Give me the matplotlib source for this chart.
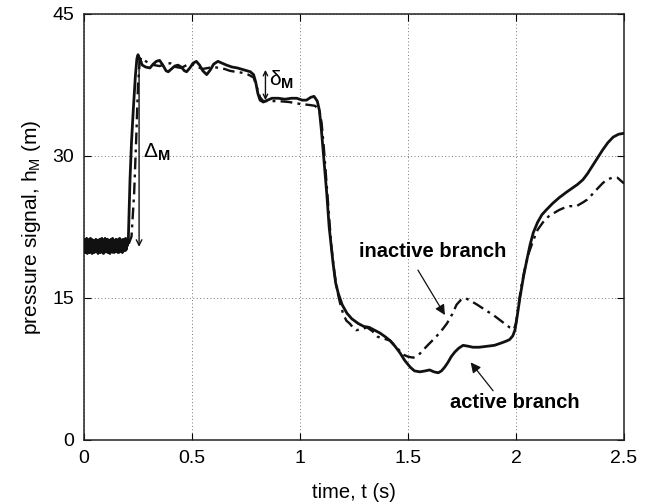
import matplotlib
matplotlib.use("Agg")
import matplotlib.pyplot as plt

plt.rcParams['font.family'] = ['Liberation Sans', 'DejaVu Sans']
plt.rcParams['mathtext.fontset'] = 'custom'
plt.rcParams['mathtext.rm'] = 'Liberation Sans'
plt.rcParams['mathtext.it'] = 'Liberation Sans'
plt.rcParams['mathtext.bf'] = 'Liberation Sans:bold'

# ---- measured signals ----
# pre-switch noisy baseline, 0 .. 0.2 s every 2.5 ms
t_base = [i * 0.0025 for i in range(81)]
h_active_base = [20.4, 21.2, 19.8, 21.0, 20.1, 21.3, 19.7, 20.9, 20.2, 21.1,
                 19.8, 20.8, 21.3, 19.9, 20.7, 19.7, 21.1, 20.1, 21.0, 19.8,
                 20.9, 20.0, 21.2, 19.9, 20.6, 21.1, 19.7, 20.8, 20.0, 21.2,
                 20.2, 19.8, 20.9, 21.3, 20.0, 20.7, 19.7, 21.1, 20.3, 21.3,
                 19.9, 21.0, 20.1, 21.2, 19.8, 20.9, 20.2, 21.1, 19.7, 20.8,
                 21.2, 19.9, 20.6, 21.3, 20.0, 20.8, 19.8, 21.0, 20.2, 21.2,
                 19.9, 20.7, 21.1, 19.8, 20.9, 20.1, 21.3, 19.9, 20.8, 20.3,
                 21.1, 19.8, 20.9, 20.2, 21.2, 20.0, 20.7, 21.3, 20.1, 21.0,
                 20.5]
h_inactive_base = [20.8, 19.9, 21.1, 20.2, 20.9, 19.8, 21.2, 20.0, 20.7, 21.2,
                   20.1, 19.8, 20.9, 21.1, 20.0, 21.2, 19.9, 20.6, 21.1, 20.2,
                   19.8, 21.0, 20.3, 21.2, 19.9, 20.5, 21.1, 20.1, 20.9, 19.8,
                   21.1, 20.4, 19.9, 20.8, 21.2, 20.1, 20.6, 21.0, 19.8, 20.7,
                   21.1, 20.0, 20.8, 19.9, 21.2, 20.2, 20.7, 19.8, 21.0, 20.3,
                   19.9, 21.1, 20.5, 19.8, 20.9, 21.2, 20.1, 20.6, 21.0, 19.9,
                   20.8, 21.2, 20.0, 20.5, 21.1, 19.8, 20.7, 21.0, 20.1, 20.9,
                   19.9, 21.2, 20.3, 20.8, 19.9, 21.1, 20.4, 20.0, 20.9, 20.6,
                   20.6]

t_active = [0.205, 0.213, 0.220, 0.228, 0.238, 0.245, 0.250, 0.258, 0.270, 0.285,
            0.305, 0.320, 0.335, 0.350, 0.365, 0.380, 0.390, 0.405, 0.420, 0.435,
            0.450, 0.465, 0.475, 0.490, 0.505, 0.520, 0.535, 0.550, 0.568, 0.585,
            0.600, 0.620, 0.640, 0.660, 0.685, 0.710, 0.740, 0.770, 0.785, 0.795,
            0.805, 0.815, 0.830, 0.850, 0.870, 0.900, 0.930, 0.960, 0.985, 1.010,
            1.030, 1.050, 1.065, 1.080, 1.090, 1.100, 1.107, 1.115, 1.124, 1.135,
            1.153, 1.165, 1.177, 1.195, 1.217, 1.240, 1.270, 1.295, 1.320, 1.345,
            1.370, 1.395, 1.417, 1.440, 1.463, 1.485, 1.510, 1.530, 1.555, 1.580,
            1.600, 1.620, 1.640, 1.655, 1.670, 1.685, 1.700, 1.717, 1.735, 1.755,
            1.780, 1.800, 1.830, 1.865, 1.900, 1.926, 1.950, 1.970, 1.985, 1.995,
            2.005, 2.018, 2.035, 2.050, 2.065, 2.080, 2.100, 2.120, 2.140, 2.170,
            2.200, 2.235, 2.260, 2.285, 2.310, 2.330, 2.355, 2.375, 2.400, 2.425,
            2.450, 2.475, 2.500]
h_active = [21.0, 27.5, 31.5, 34.8, 38.5, 40.3, 40.7, 40.2, 39.6, 39.4,
            39.3, 39.7, 40.0, 40.1, 39.6, 39.0, 38.9, 39.2, 39.5, 39.6,
            39.4, 39.0, 38.9, 39.3, 39.8, 40.0, 39.6, 39.0, 38.6, 39.1,
            39.7, 40.0, 39.8, 39.6, 39.4, 39.3, 39.1, 38.9, 38.6, 37.8,
            36.6, 35.9, 35.7, 35.9, 36.1, 36.1, 36.0, 36.1, 36.1, 35.9,
            35.9, 36.2, 36.3, 35.8, 34.8, 32.5, 30.6, 28.5, 26.0, 22.5,
            18.7, 16.6, 15.5, 14.3, 13.4, 12.8, 12.3, 12.0, 11.9, 11.6,
            11.3, 10.9, 10.5, 9.9, 9.2, 8.4, 7.7, 7.3, 7.2, 7.3,
            7.4, 7.2, 7.1, 7.3, 7.7, 8.2, 8.8, 9.3, 9.7, 10.0,
            9.9, 9.8, 9.8, 9.9, 10.0, 10.2, 10.4, 10.6, 11.0, 11.6,
            13.0, 15.0, 17.3, 19.0, 20.6, 21.9, 23.0, 23.8, 24.3, 25.0,
            25.6, 26.2, 26.6, 27.0, 27.5, 28.1, 29.0, 29.7, 30.6, 31.4,
            32.0, 32.3, 32.4]

t_inactive = [0.205, 0.220, 0.232, 0.242, 0.250, 0.258, 0.265, 0.280, 0.300, 0.325,
              0.350, 0.375, 0.400, 0.425, 0.450, 0.475, 0.500, 0.525, 0.550, 0.575,
              0.600, 0.625, 0.650, 0.675, 0.700, 0.730, 0.760, 0.785, 0.800, 0.815,
              0.830, 0.860, 0.900, 0.950, 1.000, 1.040, 1.070, 1.090, 1.100, 1.110,
              1.120, 1.130, 1.145, 1.160, 1.175, 1.185, 1.200, 1.215, 1.230, 1.245,
              1.260, 1.285, 1.310, 1.335, 1.360, 1.390, 1.417, 1.450, 1.480, 1.500,
              1.525, 1.550, 1.570, 1.595, 1.617, 1.650, 1.680, 1.705, 1.725, 1.745,
              1.765, 1.790, 1.820, 1.860, 1.895, 1.930, 1.970, 1.990, 2.000, 2.010,
              2.025, 2.040, 2.060, 2.080, 2.100, 2.125, 2.150, 2.170, 2.200, 2.220,
              2.250, 2.280, 2.310, 2.330, 2.355, 2.375, 2.400, 2.420, 2.445, 2.470,
              2.490, 2.500]
h_inactive = [20.6, 21.5, 26.0, 32.0, 37.5, 40.0, 40.4, 40.1, 39.8, 39.6,
              39.5, 39.7, 39.8, 39.4, 39.3, 39.6, 39.7, 39.4, 39.2, 39.3,
              39.4, 39.3, 39.2, 39.0, 38.9, 38.8, 38.6, 38.3, 37.3, 36.2,
              35.8, 35.8, 35.8, 35.7, 35.5, 35.4, 35.3, 34.8, 33.5, 31.0,
              28.0, 25.0, 20.5, 17.5, 15.5, 14.5, 13.3, 12.6, 12.3, 11.9,
              11.6, 11.7, 11.9, 11.5, 10.9, 10.7, 10.5, 9.7, 9.0, 8.8,
              8.7, 9.0, 9.5, 10.1, 10.6, 11.4, 12.3, 13.3, 14.3, 14.8,
              15.0, 14.7, 14.3, 13.7, 13.2, 12.6, 11.9, 11.7, 12.3, 14.0,
              16.3, 18.0, 19.8, 21.1, 22.2, 23.0, 23.6, 23.9, 24.3, 24.5,
              24.7, 24.7, 25.1, 25.4, 26.0, 26.5, 27.1, 27.5, 27.7, 27.7,
              27.3, 27.1]

x_ticks = [0, 0.5, 1, 1.5, 2, 2.5]
x_ticklabels = ['0', '0.5', '1', '1.5', '2', '2.5']
y_ticks = [0, 15, 30, 45]

# jump magnitudes marked on the plot
t_Delta, h_Delta_low, h_Delta_high = 0.255, 20.4, 40.7
t_delta, h_delta_high, h_delta_low = 0.84, 39.1, 35.9

fig = plt.figure(figsize=(6.49, 5.04), dpi=100)
ax = fig.add_axes([84 / 649, 64 / 504, 540 / 649, 426 / 504])

ax.plot(t_base + t_active, h_active_base + h_active,
        color='#111111', lw=2.0, solid_joinstyle='round', zorder=3)
ax.plot(t_base + t_inactive, h_inactive_base + h_inactive,
        color='#111111', lw=1.7, linestyle=(0, (5, 2.2, 1.2, 2.2)), zorder=3)

ax.set_xlim(0, 2.5)
ax.set_ylim(0, 45)
ax.set_xticks(x_ticks)
ax.set_xticklabels(x_ticklabels)
ax.set_yticks(y_ticks)
ax.grid(True, linestyle=(0, (1, 2.5)), color='#777777', linewidth=0.7)
ax.tick_params(direction='in', length=5, width=0.8, labelsize=14,
               top=True, right=True, pad=7)
for s in ax.spines.values():
    s.set_linewidth(1.1)
    s.set_color('#222222')

ax.set_xlabel('time, t (s)', fontsize=14.5, labelpad=12)
ax.set_ylabel(r'pressure signal, h$_\mathrm{M}$ (m)', fontsize=15, labelpad=7)

# Delta_M and delta_M arrows
ax.annotate('', xy=(t_Delta, h_Delta_low), xytext=(t_Delta, h_Delta_high),
            arrowprops=dict(arrowstyle='<->', color='#111111', lw=1.0,
                            shrinkA=0, shrinkB=0, mutation_scale=10))
ax.text(0.272, 30.4, r'$\Delta_{\mathbf{M}}$', fontsize=15, va='center', ha='left')
ax.annotate('', xy=(t_delta, h_delta_low), xytext=(t_delta, h_delta_high),
            arrowprops=dict(arrowstyle='<->', color='#111111', lw=1.0,
                            shrinkA=0, shrinkB=0, mutation_scale=8))
ax.text(0.855, 38.0, r'$\delta_{\mathbf{M}}$', fontsize=15, va='center', ha='left')

# branch labels with pointer arrows
ax.text(1.615, 19.9, 'inactive branch', fontsize=14.5, fontweight='bold',
        ha='center', va='center')
ax.annotate('', xy=(1.671, 13.2), xytext=(1.546, 17.95),
            arrowprops=dict(arrowstyle='-|>', color='#111111', lw=0.9,
                            shrinkA=0, shrinkB=0, mutation_scale=15))
ax.text(1.995, 4.0, 'active branch', fontsize=14.5, fontweight='bold',
        ha='center', va='center')
ax.annotate('', xy=(1.79, 8.2), xytext=(1.894, 5.2),
            arrowprops=dict(arrowstyle='-|>', color='#111111', lw=0.9,
                            shrinkA=0, shrinkB=0, mutation_scale=15))

fig.savefig('out.png', dpi=100)
